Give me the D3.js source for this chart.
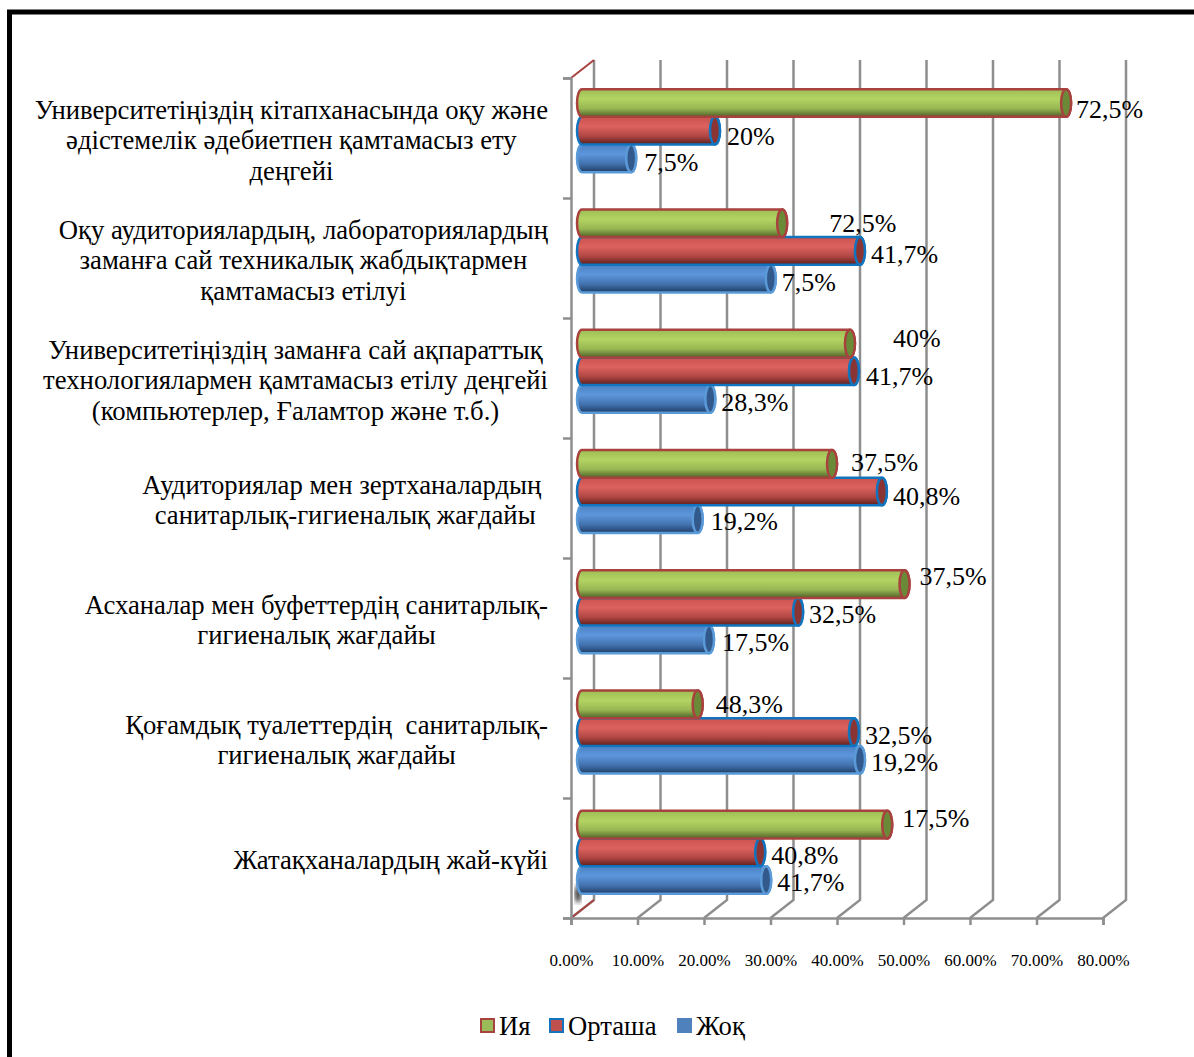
<!DOCTYPE html>
<html>
<head>
<meta charset="utf-8">
<script src="https://cdn.jsdelivr.net/npm/d3@7"></script>
<style>
  html, body { margin: 0; padding: 0; background: #fff; }
  svg { display: block; font-family: "Liberation Serif", serif; }
  text { fill: #000; }
</style>
</head>
<body>
<script>
// category labels, one entry per printed line (top row first)
var categories = [
  ["Университетіңіздің кітапханасында оқу және", "әдістемелік әдебиетпен қамтамасыз ету", "деңгейі"],
  ["Оқу аудиторияларды\u04a3, лабораторияларды\u04a3", "заман\u0493а сай техникалы\u049b жабды\u049bтармен", "\u049bамтамасыз етілуі"],
  ["Университетіңіздің заманға сай ақпараттық", "технологиялармен қамтамасыз етілу деңгейі", "(компьютерлер, Ғаламтор және т.б.)"],
  ["Аудиториялар мен зертханалардың\u00a0", "санитарлық-гигиеналық жағдайы"],
  ["Асханалар мен буфеттердің санитарлық-", "гигиеналық жағдайы"],
  ["Қоғамдық туалеттердің  санитарлық-", "гигиеналық жағдайы"],
  ["Жатақханалардың жай-күйі"]
];
var series = ["Ия", "Орташа", "Жоқ"];

// bar lengths
var iaValues = [74.3, 31.6, 41.8, 39.1, 50.0, 18.9, 47.4];
var ortashaValues = [21.5, 43.3, 42.4, 46.6, 34.0, 42.4, 28.3];
var zhokValues = [8.9, 29.9, 20.8, 18.9, 20.6, 43.3, 29.2];

// printed data labels (they do not always agree with the bar next to them)
var iaLabels = ["72,5%", "72,5%", "40%", "37,5%", "37,5%", "48,3%", "17,5%"];
var ortashaLabels = ["20%", "41,7%", "41,7%", "40,8%", "32,5%", "32,5%", "40,8%"];
var zhokLabels = ["7,5%", "7,5%", "28,3%", "19,2%", "17,5%", "19,2%", "41,7%"];

var tickLabels = ["0.00%", "10.00%", "20.00%", "30.00%", "40.00%", "50.00%", "60.00%", "70.00%", "80.00%"];
var tickValues = [0, 10, 20, 30, 40, 50, 60, 70, 80];

// hand placed data label nudges [dx, dy] from the end of each bar
var iaNudge = [[5, 7], [42, 0], [38, -5], [14, -1], [10, -7], [13, 0], [10, -6]];
var ortashaNudge = [[7, 6], [6, 4], [7, 5], [6, 5], [6, 3], [6, 4], [6, 3]];
var zhokNudge = [[8, 4], [6, 4], [6, 4], [8, 3], [8, 3], [6, 3], [6, 3]];

var width = 1194, height = 1057;
var depthX = 23, depthY = 18;

var svg = d3.select("body").append("svg")
    .attr("width", width)
    .attr("height", height);

var x = d3.scaleLinear().domain([0, 80]).range([571, 1103]);
var rows = d3.scaleLinear().domain([0, categories.length]).range([78, 918]);
var barRows = d3.scaleBand().domain(d3.range(categories.length)).range([79, 921]);
var barY = d3.scaleBand().domain(series).range([-50, 33]);

var look = [
  { values: iaValues, labels: iaLabels, nudge: iaNudge, stroke: "#a8423f", cap: "#6a8a38", swatch: "#9bbb59",
    stops: ["#9dbd55", "#b3d463", "#98b652", "#4f6228"] },
  { values: ortashaValues, labels: ortashaLabels, nudge: ortashaNudge, stroke: "#1274bf", cap: "#8a3533", swatch: "#c0504d",
    stops: ["#c9524f", "#dc625e", "#b04643", "#5a1f1d"] },
  { values: zhokValues, labels: zhokLabels, nudge: zhokNudge, stroke: "#5a9ad8", cap: "#31598c", swatch: "#4f81bd",
    stops: ["#4c82c4", "#5d96dc", "#4272ae", "#1f3d66"] }
];

var defs = svg.append("defs");
look.forEach(function(s, i) {
  var g = defs.append("linearGradient")
      .attr("id", "grad" + i)
      .attr("x1", 0).attr("y1", 0).attr("x2", 0).attr("y2", 1);
  [0, 0.35, 0.7, 1].forEach(function(o, k) {
    g.append("stop").attr("offset", o).attr("stop-color", s.stops[k]);
  });
});
defs.append("filter").attr("id", "smudge").append("feGaussianBlur").attr("stdDeviation", 2.5);

// picture frame, only left and top survive
svg.append("path")
    .attr("d", "M9.5 1057V12H1194")
    .attr("fill", "none")
    .attr("stroke", "#000")
    .attr("stroke-width", 5);

// chart walls
var wall = svg.append("g");
wall.selectAll("line.grid")
    .data(tickValues)
  .enter().append("path")
    .attr("class", "grid")
    .attr("fill", "none")
    .attr("stroke", "#8e8e8e")
    .attr("stroke-width", 2.5)
    .attr("d", function(d) {
      var bx = x(d) + depthX;
      return "M" + bx + " " + (rows(0) - depthY) + "V" + (rows(categories.length) - depthY) + "L" + x(d) + " " + rows(categories.length);
    });

// red edges of the side wall
[0, categories.length].forEach(function(r) {
  wall.append("line")
      .attr("x1", x(0)).attr("y1", rows(r))
      .attr("x2", x(0) + depthX).attr("y2", rows(r) - depthY)
      .attr("stroke", "#a8423f")
      .attr("stroke-width", 2);
});

// axes
var xAxis = d3.axisBottom(x)
    .tickValues(tickValues)
    .tickFormat(function(d, i) { return tickLabels[i]; })
    .tickSize(7)
    .tickPadding(29);
var xg = svg.append("g")
    .attr("transform", "translate(0," + rows(categories.length) + ")")
    .call(xAxis);
xg.selectAll("path, line").attr("stroke", "#8e8e8e").attr("stroke-width", 2.5);
xg.selectAll("text").attr("font-size", 17).attr("font-family", "Liberation Serif");

var yAxis = d3.axisLeft(rows)
    .tickValues(d3.range(categories.length + 1))
    .tickFormat("")
    .tickSize(8);
var yg = svg.append("g")
    .attr("transform", "translate(" + x(0) + ",0)")
    .call(yAxis);
yg.selectAll("path, line").attr("stroke", "#8e8e8e").attr("stroke-width", 2.5);

// smudge in the corner of the original scan
svg.append("ellipse")
    .attr("cx", x(0) + 7).attr("cy", rows(categories.length) - 24)
    .attr("rx", 3).attr("ry", 9)
    .attr("fill", "#222")
    .attr("filter", "url(#smudge)");

// cylinders, last series first so the green ones end up on top
var capRx = 5, shift = 6;
function cylinder(x0, x1, top, bottom) {
  var ry = (bottom - top) / 2;
  return "M" + (x0 + capRx) + " " + top + "H" + (x1 - capRx) +
    "A" + capRx + " " + ry + " 0 0 1 " + (x1 - capRx) + " " + bottom +
    "H" + (x0 + capRx) +
    "A" + capRx + " " + ry + " 0 0 1 " + (x0 + capRx) + " " + top + "Z";
}

d3.range(series.length - 1, -1, -1).forEach(function(si) {
  var s = look[si];
  var g = svg.append("g");
  var bar = g.selectAll("g.bar")
      .data(s.values)
    .enter().append("g")
      .attr("class", "bar")
      .attr("transform", function(d, i) {
        return "translate(0," + (barRows(i) + barRows.bandwidth() / 2 + barY(series[si])) + ")";
      });
  bar.append("path")
      .attr("d", function(d) { return cylinder(x(0) + shift, x(d) + shift, 0, barY.bandwidth()); })
      .attr("fill", "url(#grad" + si + ")")
      .attr("stroke", s.stroke)
      .attr("stroke-width", 2.5);
  bar.append("ellipse")
      .attr("cx", function(d) { return x(d) + shift - capRx; })
      .attr("cy", barY.bandwidth() / 2)
      .attr("rx", capRx)
      .attr("ry", barY.bandwidth() / 2)
      .attr("fill", s.cap)
      .attr("stroke", s.stroke)
      .attr("stroke-width", 2.5);
});

// data labels on top of everything
look.forEach(function(s, si) {
  svg.append("g").selectAll("text")
      .data(s.values)
    .enter().append("text")
      .attr("x", function(d, i) { return x(d) + shift + s.nudge[i][0]; })
      .attr("y", function(d, i) {
        return barRows(i) + barRows.bandwidth() / 2 + barY(series[si]) + barY.bandwidth() / 2 + s.nudge[i][1];
      })
      .attr("dy", ".32em")
      .attr("font-size", 26)
      .text(function(d, i) { return s.labels[i]; });
});

// category labels: lines centred on each other, block flush against the axis
var labelRight = 548, lineHeight = 30.5;
var cat = svg.append("g").selectAll("g")
    .data(categories)
  .enter().append("g");
cat.each(function(lines, i) {
  var g = d3.select(this);
  var cy = (rows(i) + rows(i + 1)) / 2 + 3;
  var t = g.selectAll("text").data(lines).enter().append("text")
      .attr("font-size", 26.7)
      .attr("text-anchor", "middle")
      .style("white-space", "pre")
      .attr("y", function(d, k) { return cy + (k - (lines.length - 1) / 2) * lineHeight; })
      .attr("dy", ".3em")
      .text(function(d) { return d; });
  var w = d3.max(t.nodes(), function(n) { return n.getComputedTextLength(); });
  t.attr("x", labelRight - w / 2);
});

// legend
var legendX = [480, 549, 677];
var legend = svg.append("g").selectAll("g")
    .data(series)
  .enter().append("g")
    .attr("transform", function(d, i) { return "translate(" + legendX[i] + ",1018)"; });
legend.append("rect")
    .attr("width", 13).attr("height", 13)
    .attr("x", 1).attr("y", 1)
    .attr("fill", function(d, i) { return look[i].swatch; })
    .attr("stroke", function(d, i) { return i == 2 ? look[i].swatch : look[i].stroke; })
    .attr("stroke-width", 2);
legend.append("text")
    .attr("x", 19).attr("y", 8)
    .attr("dy", ".33em")
    .attr("font-size", 26.7)
    .text(function(d) { return d; });
</script>
</body>
</html>
